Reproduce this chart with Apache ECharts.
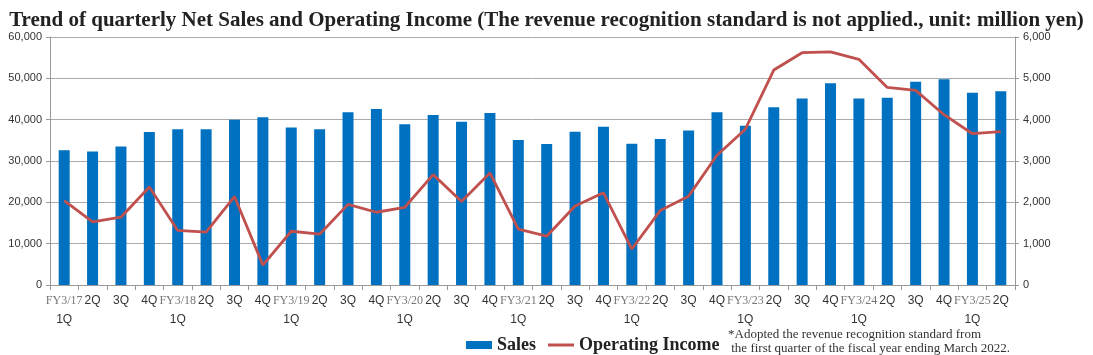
<!DOCTYPE html>
<html><head><meta charset="utf-8">
<script src="https://cdn.jsdelivr.net/npm/echarts@6/dist/echarts.min.js"></script>
<style>html,body{margin:0;padding:0;background:#fff;}#c{width:1093px;height:355px;}</style>
</head><body><div id="c"></div>
<script>
const fiscalYears = ['FY3/17','FY3/18','FY3/19','FY3/20','FY3/21','FY3/22','FY3/23','FY3/24','FY3/25'];
const quarters = ['1Q','2Q','3Q','4Q'];
const quarterCounts = [4,4,4,4,4,4,4,4,2];
const sales = [32600,32300,33500,37000, 37700,37700,40000,40600, 38100,37700,41800,42600,
  38900,41100,39500,41600, 35100,34100,37100,38300, 34200,35300,37400,41800,
  38500,43000,45100,48800, 45100,45300,49200,49800, 46500,46900];
const operatingIncome = [2040,1530,1640,2370, 1320,1280,2140,480, 1300,1230,1950,1760,
  1880,2670,2020,2710, 1350,1180,1910,2230, 870,1800,2150,3140,
  3770,5200,5620,5640, 5460,4780,4710,4120, 3660,3710];
const leftTicks = [0,10000,20000,30000,40000,50000,60000];
const rightTicks = [0,1000,2000,3000,4000,5000,6000];

const categories = [];
fiscalYears.forEach((fy,i)=>{
  for(let q=0;q<quarterCounts[i];q++){
    categories.push(q===0 ? '{fy|'+fy+'}\n{q|'+quarters[q]+'}' : '{q|'+quarters[q]+'}\n{q| }');
  }
});

const chart = echarts.init(document.getElementById('c'));
chart.setOption({
  animation:false,
  title:{text:'Trend of quarterly Net Sales and Operating Income (The revenue recognition standard is not applied., unit: million yen)',
    left:'center', top:5,
    textStyle:{fontFamily:'Liberation Serif', fontWeight:'bold', fontSize:21, color:'#222'}},
  grid:{left:50, right:78, top:37, bottom:70},
  legend:{left:461, top:331, itemGap:12, itemWidth:26, itemHeight:8,
    textStyle:{fontFamily:'Liberation Serif', fontWeight:'bold', fontSize:18, color:'#222'},
    data:[{name:'Sales', icon:'rect'},
          {name:'Operating Income', icon:'path://M0,0 L26,0 L26,3 L0,3 Z'}]},
  graphic:[{type:'text', left:728, top:328,
    style:{text:'*Adopted the revenue recognition standard from\n the first quarter of the fiscal year ending March 2022.',
      fontFamily:'Liberation Serif', fontSize:13, lineHeight:14, fill:'#333'}}],
  xAxis:{type:'category', data:categories,
    axisLine:{lineStyle:{color:'#999'}},
    axisTick:{show:true, interval:0, length:5, lineStyle:{color:'#999'}},
    axisLabel:{interval:0, margin:6, lineHeight:19,
      rich:{fy:{fontFamily:'Liberation Serif', fontSize:12, color:'#777', lineHeight:19},
            q:{fontFamily:'Liberation Sans', fontSize:12, color:'#333', lineHeight:19}}}},
  yAxis:[
    {type:'value', min:0, max:60000, interval:10000,
      axisLine:{show:true, lineStyle:{color:'#999'}},
      axisTick:{show:true, length:4, lineStyle:{color:'#999'}},
      axisLabel:{fontFamily:'Liberation Sans', fontSize:11, color:'#333', margin:8,
        formatter:v=>leftTicks.includes(v)?v.toLocaleString('en-US'):''},
      splitLine:{lineStyle:{color:'#aaa'}}},
    {type:'value', min:0, max:6000, interval:1000,
      axisLine:{show:true, lineStyle:{color:'#999'}},
      axisTick:{show:true, length:4, lineStyle:{color:'#999'}},
      axisLabel:{fontFamily:'Liberation Sans', fontSize:11, color:'#333', margin:8,
        formatter:v=>rightTicks.includes(v)?v.toLocaleString('en-US'):''},
      splitLine:{show:false}}
  ],
  series:[
    {name:'Sales', type:'bar', data:sales, barWidth:11, itemStyle:{color:'#0070C0'}, yAxisIndex:0},
    {name:'Operating Income', type:'line', data:operatingIncome, yAxisIndex:1, symbol:'none',
      lineStyle:{color:'#C0504D', width:2.8}, itemStyle:{color:'#C0504D'}}
  ]
});
</script></body></html>
